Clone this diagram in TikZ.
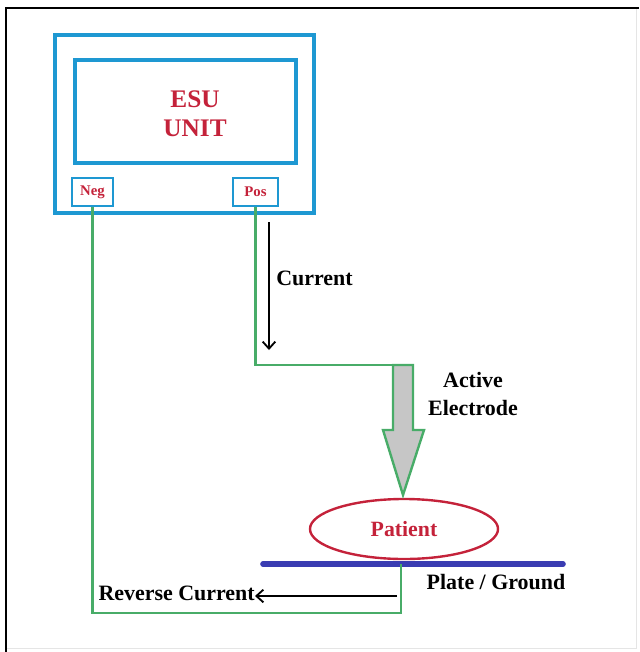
\documentclass[tikz,border=0pt]{standalone}
\usepackage{fontspec}
\setmainfont{Liberation Serif}
\usepackage{tikz}
\usetikzlibrary{positioning, arrows.meta, calc, shapes.geometric}

\definecolor{unitblue}{RGB}{30,152,210}
\definecolor{wiregreen}{RGB}{72,172,104}
\definecolor{labelred}{RGB}{196,34,58}
\definecolor{plateblue}{RGB}{58,60,178}

\tikzset{
  unitbox/.style={draw=unitblue, line width=3.5pt, inner sep=0pt},
  portbox/.style={draw=unitblue, line width=2pt, inner sep=0pt, text=labelred,
    font=\bfseries\fontsize{10.5}{11}\selectfont},
  wire/.style={draw=wiregreen, line width=1.7pt},
  flow/.style={draw=black, line width=1.3pt, -{Straight Barb[length=5pt,width=9pt,line width=1.3pt]}},
  tag/.style={font=\bfseries\fontsize{15.6}{19.5}\selectfont, inner sep=0pt}
}

\begin{document}
\begin{tikzpicture}[x=0.025cm, y=-0.025cm]
  \useasboundingbox (0,0) rectangle (639,652);

  % Page frame
  \draw[gray!20, line width=0.6pt] (636,8) -- (636,648) -- (6,648);
  \draw[black, line width=1.8pt] (6,652) -- (6,8) -- (639,8);

  % ESU unit
  \node[unitbox, minimum width=6.475cm, minimum height=4.45cm] (esu) at (184.5,124) {};
  \node[unitbox, minimum width=5.525cm, minimum height=2.575cm] (screen) at (185.5,111.5) {};
  \node[align=center, text=labelred, font=\bfseries\fontsize{18}{20.5}\selectfont]
    (esulabel) at (195,114) {ESU\\UNIT};
  \node[portbox, minimum width=1.025cm, minimum height=0.7cm] (neg) at (92.5,192) {Neg};
  \node[portbox, minimum width=1.125cm, minimum height=0.7cm] (pos) at (255.5,192) {Pos};

  % Patient and plate
  \node[draw=labelred, line width=1.7pt, ellipse, minimum width=4.7cm, minimum height=1.5cm,
    inner sep=0pt, text=labelred, font=\bfseries\fontsize{15.5}{17}\selectfont] (patient) at (404,529) {Patient};
  \coordinate (plateL) at (263,564);
  \coordinate (plateR) at (563,564);
  \draw[plateblue, line width=4pt, line cap=round] (plateL) -- (plateR);
  \node[tag] (plate) at (496,582) {Plate / Ground};

  % Active electrode (block arrow)
  \coordinate (tip) at (403,495);
  \filldraw[fill=gray!45, draw=wiregreen, line width=1.7pt, line join=miter]
    (393,365) -- (393,430) -- (383,430) -- (tip) -- (424,430) -- (413,430) -- (413,365) -- cycle;
  \node[tag, align=center] (active) at (473,394) {Active\\Electrode};

  % Wires
  \coordinate (posbend) at (255.5,365);
  \coordinate (shaft) at (413,365);
  \draw[wire] (pos.south) -- (posbend) -- (shaft);
  \coordinate (retbend) at (401,613);
  \coordinate (platejoin) at (401,564);
  \draw[wire] (neg.south) |- (retbend) -- (platejoin);

  % Current arrows
  \coordinate (curtop) at (269,222);
  \coordinate (curbot) at (269,350);
  \draw[flow] (curtop) -- (curbot);
  \node[tag, anchor=west] (current) at (276,278) {Current};

  \node[tag, anchor=east] (reverse) at (255,593) {Reverse Current};
  \coordinate (revstart) at (397,596);
  \draw[flow] (revstart) -- (reverse.east |- revstart);
\end{tikzpicture}
\end{document}
